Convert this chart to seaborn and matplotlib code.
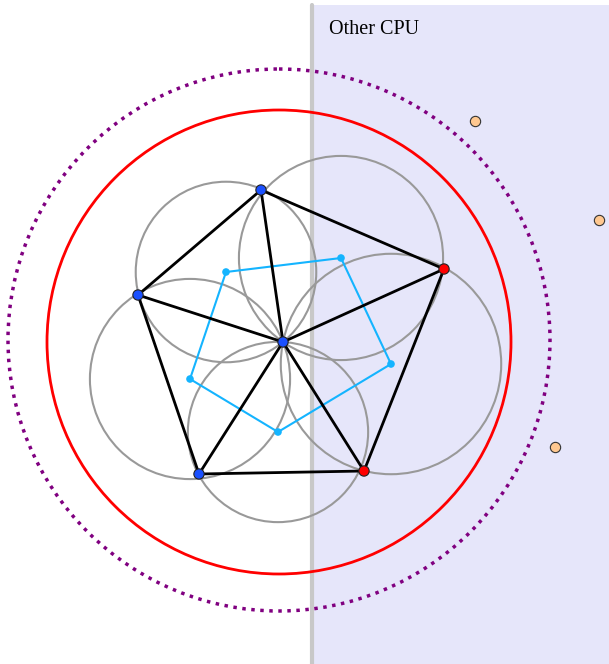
import numpy as np
import pandas as pd
import seaborn as sns
import matplotlib
matplotlib.use('Agg')
import matplotlib.pyplot as plt
from matplotlib.patches import Circle, Rectangle

# data (pixel-like coordinates, y goes down)
site_x = [283, 261, 444, 364, 199, 138]
site_y = [342, 190, 269, 471, 474, 295]
site_cpu = ['this', 'this', 'other', 'other', 'this', 'this']

ghost_x = [475, 599, 555]
ghost_y = [121, 220, 447]

# circumcenters of the triangles around the middle site (voronoi cell)
vor_x = [226, 341, 391, 278, 190]
vor_y = [272, 258, 364, 432, 379]

ring_center = (279, 342)
ring_r = 232
outer_center = (279, 340)
outer_r = 271

split_x = 312

sns.set_style('white')
plt.rcParams['font.family'] = ['Liberation Serif', 'DejaVu Serif']

fig = plt.figure(figsize=(6.09, 6.64), dpi=100)
ax = fig.add_axes([0, 0, 1, 1])
ax.set_xlim(0, 609)
ax.set_ylim(664, 0)
ax.set_aspect('equal')
ax.axis('off')

# other cpu area
ax.add_patch(Rectangle((split_x, 5), 609 - split_x, 664, facecolor='#e6e6fa', edgecolor='none', zorder=0))
ax.plot([split_x, split_x], [5, 664], color='#c8c8c8', lw=3, zorder=1)
ax.text(329, 29, 'Other CPU', fontsize=14.5, color='black', va='center', ha='left')

# circles
ax.add_patch(Circle(outer_center, outer_r, fill=False, color='#800080', lw=2.5, ls=(0, (1, 1.6)), zorder=2))
ax.add_patch(Circle(ring_center, ring_r, fill=False, color='#ff0000', lw=2, zorder=2))
for cx, cy in zip(vor_x, vor_y):
    r = np.hypot(cx - site_x[0], cy - site_y[0])
    ax.add_patch(Circle((cx, cy), r, fill=False, color='#999999', lw=1.5, zorder=3))

# voronoi cell
vor = pd.DataFrame({'x': vor_x + vor_x[:1], 'y': vor_y + vor_y[:1]})
sns.lineplot(data=vor, x='x', y='y', sort=False, estimator=None, color='#14b4ff', lw=1.5, ax=ax, zorder=4)
sns.scatterplot(data=vor.iloc[:-1], x='x', y='y', color='#14b4ff', s=30, edgecolor='none', ax=ax, zorder=5)

# delaunay edges
ring = list(range(1, 6)) + [1]
hull = pd.DataFrame({'x': [site_x[i] for i in ring], 'y': [site_y[i] for i in ring]})
sns.lineplot(data=hull, x='x', y='y', sort=False, estimator=None, color='black', lw=2, ax=ax, zorder=6)
for i in range(1, 6):
    ax.plot([site_x[0], site_x[i]], [site_y[0], site_y[i]], color='black', lw=2, zorder=6)

# sites
sites = pd.DataFrame({'x': site_x, 'y': site_y, 'cpu': site_cpu})
sns.scatterplot(data=sites, x='x', y='y', hue='cpu', palette={'this': '#1a50ff', 'other': '#ff0000'},
                s=55, edgecolor='#222222', linewidth=0.8, legend=False, ax=ax, zorder=7)
ghosts = pd.DataFrame({'x': ghost_x, 'y': ghost_y})
sns.scatterplot(data=ghosts, x='x', y='y', color='#ffc890', s=55, edgecolor='#333333', linewidth=0.8, ax=ax, zorder=7)

ax.set_xlabel('')
ax.set_ylabel('')
fig.savefig('out.png', dpi=100)
